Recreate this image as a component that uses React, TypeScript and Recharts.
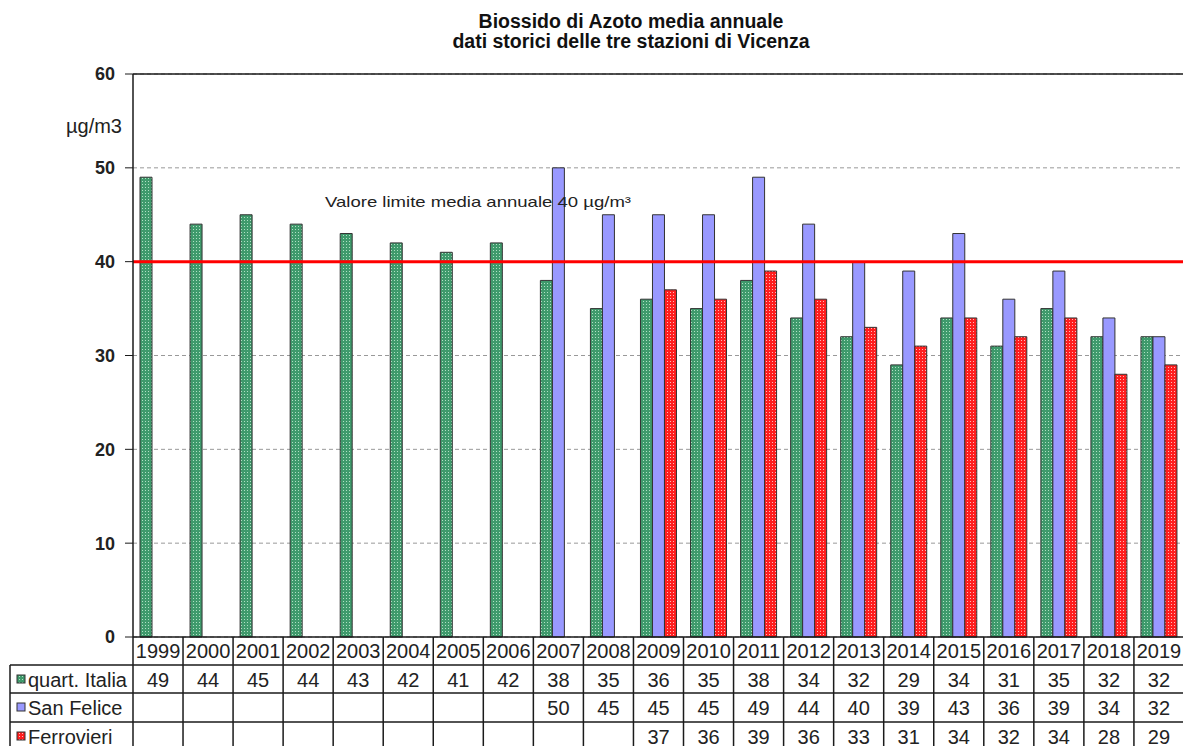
import { BarChart, Bar, XAxis, YAxis, CartesianGrid, ReferenceLine } from 'recharts';

const years = ['1999', '2000', '2001', '2002', '2003', '2004', '2005', '2006', '2007', '2008', '2009', '2010', '2011', '2012', '2013', '2014', '2015', '2016', '2017', '2018', '2019'];
const quartItalia = [49, 44, 45, 44, 43, 42, 41, 42, 38, 35, 36, 35, 38, 34, 32, 29, 34, 31, 35, 32, 32];
const sanFelice = [null, null, null, null, null, null, null, null, 50, 45, 45, 45, 49, 44, 40, 39, 43, 36, 39, 34, 32];
const ferrovieri = [null, null, null, null, null, null, null, null, null, null, 37, 36, 39, 36, 33, 31, 34, 32, 34, 28, 29];
const yTicks = [0, 10, 20, 30, 40, 50, 60];
const seriesNames = ['quart. Italia', 'San Felice', 'Ferrovieri'];

const data = years.map((y, i) => ({
  year: y,
  italia: quartItalia[i],
  sanFelice: sanFelice[i],
  ferrovieri: ferrovieri[i],
}));

const FONT = '"Liberation Sans", Arial, sans-serif';
const LINE = '#1a1a1a';
const PLOT_LEFT = 133;
const PLOT_BOTTOM = 637;
const rowLines = [665, 693, 722, 750];
const fills = ['url(#patGreen)', '#9999ff', 'url(#patRed)'];

function TableTick(props: any) {
  const { x, payload, index } = props;
  const i = years.indexOf(payload.value);
  const half = 25;
  const vals = [quartItalia[i], sanFelice[i], ferrovieri[i]];
  const txt = { fontFamily: FONT, fontSize: 20, fill: '#222', textAnchor: 'middle' as const };
  return (
    <g>
      {index === 0 && (
        <g>
          <line x1={PLOT_LEFT} y1={PLOT_BOTTOM} x2={PLOT_LEFT} y2={750} stroke={LINE} strokeWidth={1.5} />
          <line x1={10} y1={rowLines[0]} x2={10} y2={750} stroke={LINE} strokeWidth={1.5} />
          {rowLines.slice(0, 3).map((ly) => (
            <line key={ly} x1={10} y1={ly} x2={PLOT_LEFT} y2={ly} stroke={LINE} strokeWidth={1.5} />
          ))}
          {seriesNames.map((n, k) => (
            <g key={n}>
              <rect x={17} y={rowLines[k] + 10} width={8} height={8} fill={fills[k]} stroke="#333" strokeWidth={1} />
              <text x={28} y={rowLines[k] + 22} fontFamily={FONT} fontSize={20} fill="#222">{n}</text>
            </g>
          ))}
        </g>
      )}
      <line x1={x + half} y1={PLOT_BOTTOM} x2={x + half} y2={750} stroke={LINE} strokeWidth={1.5} />
      {rowLines.slice(0, 3).map((ly) => (
        <line key={ly} x1={x - half} y1={ly} x2={x + half} y2={ly} stroke={LINE} strokeWidth={1.5} />
      ))}
      <text x={x} y={PLOT_BOTTOM + 21} {...txt}>{payload.value}</text>
      {vals.map((v, k) => (v == null ? null : (
        <text key={k} x={x} y={rowLines[k] + 22} {...txt}>{v}</text>
      )))}
    </g>
  );
}

function LimitLabel(props: any) {
  const { viewBox } = props;
  return (
    <text x={viewBox.x + 192} y={viewBox.y - 55} fontFamily={FONT} fontSize={15} fill="#222" textLength={306} lengthAdjust="spacingAndGlyphs">
      Valore limite media annuale 40 µg/m³
    </text>
  );
}

export default function App() {
  return (
    <div style={{ position: 'absolute', left: 0, top: 0, width: 1183, height: 746, overflow: 'hidden', background: '#fff' }}>
      <div style={{ position: 'absolute', left: 0, width: 1262, top: 11, textAlign: 'center', fontFamily: FONT, fontWeight: 'bold', fontSize: 19.5, lineHeight: '20px', color: '#111' }}>
        Biossido di Azoto media annuale<br />dati storici delle tre stazioni di Vicenza
      </div>
      <div style={{ position: 'absolute', left: 0, width: 122, top: 116, textAlign: 'right', fontFamily: FONT, fontSize: 20, lineHeight: '20px', color: '#222' }}>µg/m3</div>
      <BarChart width={1190} height={746} data={data} margin={{ top: 74, right: 6, left: 0, bottom: 0 }} barCategoryGap="14%" barGap={0}>
        <defs>
          <pattern id="patGreen" width={3} height={3} patternUnits="userSpaceOnUse">
            <rect width={3} height={3} fill="#3f9a6c" />
            <rect x={1} y={1} width={1} height={1} fill="#b0e0c4" />
          </pattern>
          <pattern id="patRed" width={3} height={3} patternUnits="userSpaceOnUse">
            <rect width={3} height={3} fill="#ff1e1e" />
            <rect x={1} y={1} width={1} height={1} fill="#ffb8b8" />
          </pattern>
        </defs>
        <CartesianGrid vertical={false} stroke="#999" strokeDasharray="4 3" />
        <XAxis dataKey="year" interval={0} height={109} tickLine={false} axisLine={{ stroke: LINE, strokeWidth: 1.5 }} tick={(p: any) => <TableTick {...p} />} />
        <YAxis domain={[0, 60]} ticks={yTicks} width={133} tickSize={8} tickMargin={10} axisLine={{ stroke: LINE, strokeWidth: 1.5 }} tickLine={{ stroke: LINE }} tick={{ fontFamily: FONT, fontSize: 18, fontWeight: 'bold', fill: '#222' }} />
        <ReferenceLine y={60} stroke={LINE} strokeWidth={1.5} />
        <Bar dataKey="italia" fill="url(#patGreen)" stroke="#333" strokeWidth={1} isAnimationActive={false} />
        <Bar dataKey="sanFelice" fill="#9999ff" stroke="#333" strokeWidth={1} isAnimationActive={false} />
        <Bar dataKey="ferrovieri" fill="url(#patRed)" stroke="#333" strokeWidth={1} isAnimationActive={false} />
        <ReferenceLine y={40} stroke="#ff0000" strokeWidth={3} label={(p: any) => <LimitLabel {...p} />} />
      </BarChart>
    </div>
  );
}
